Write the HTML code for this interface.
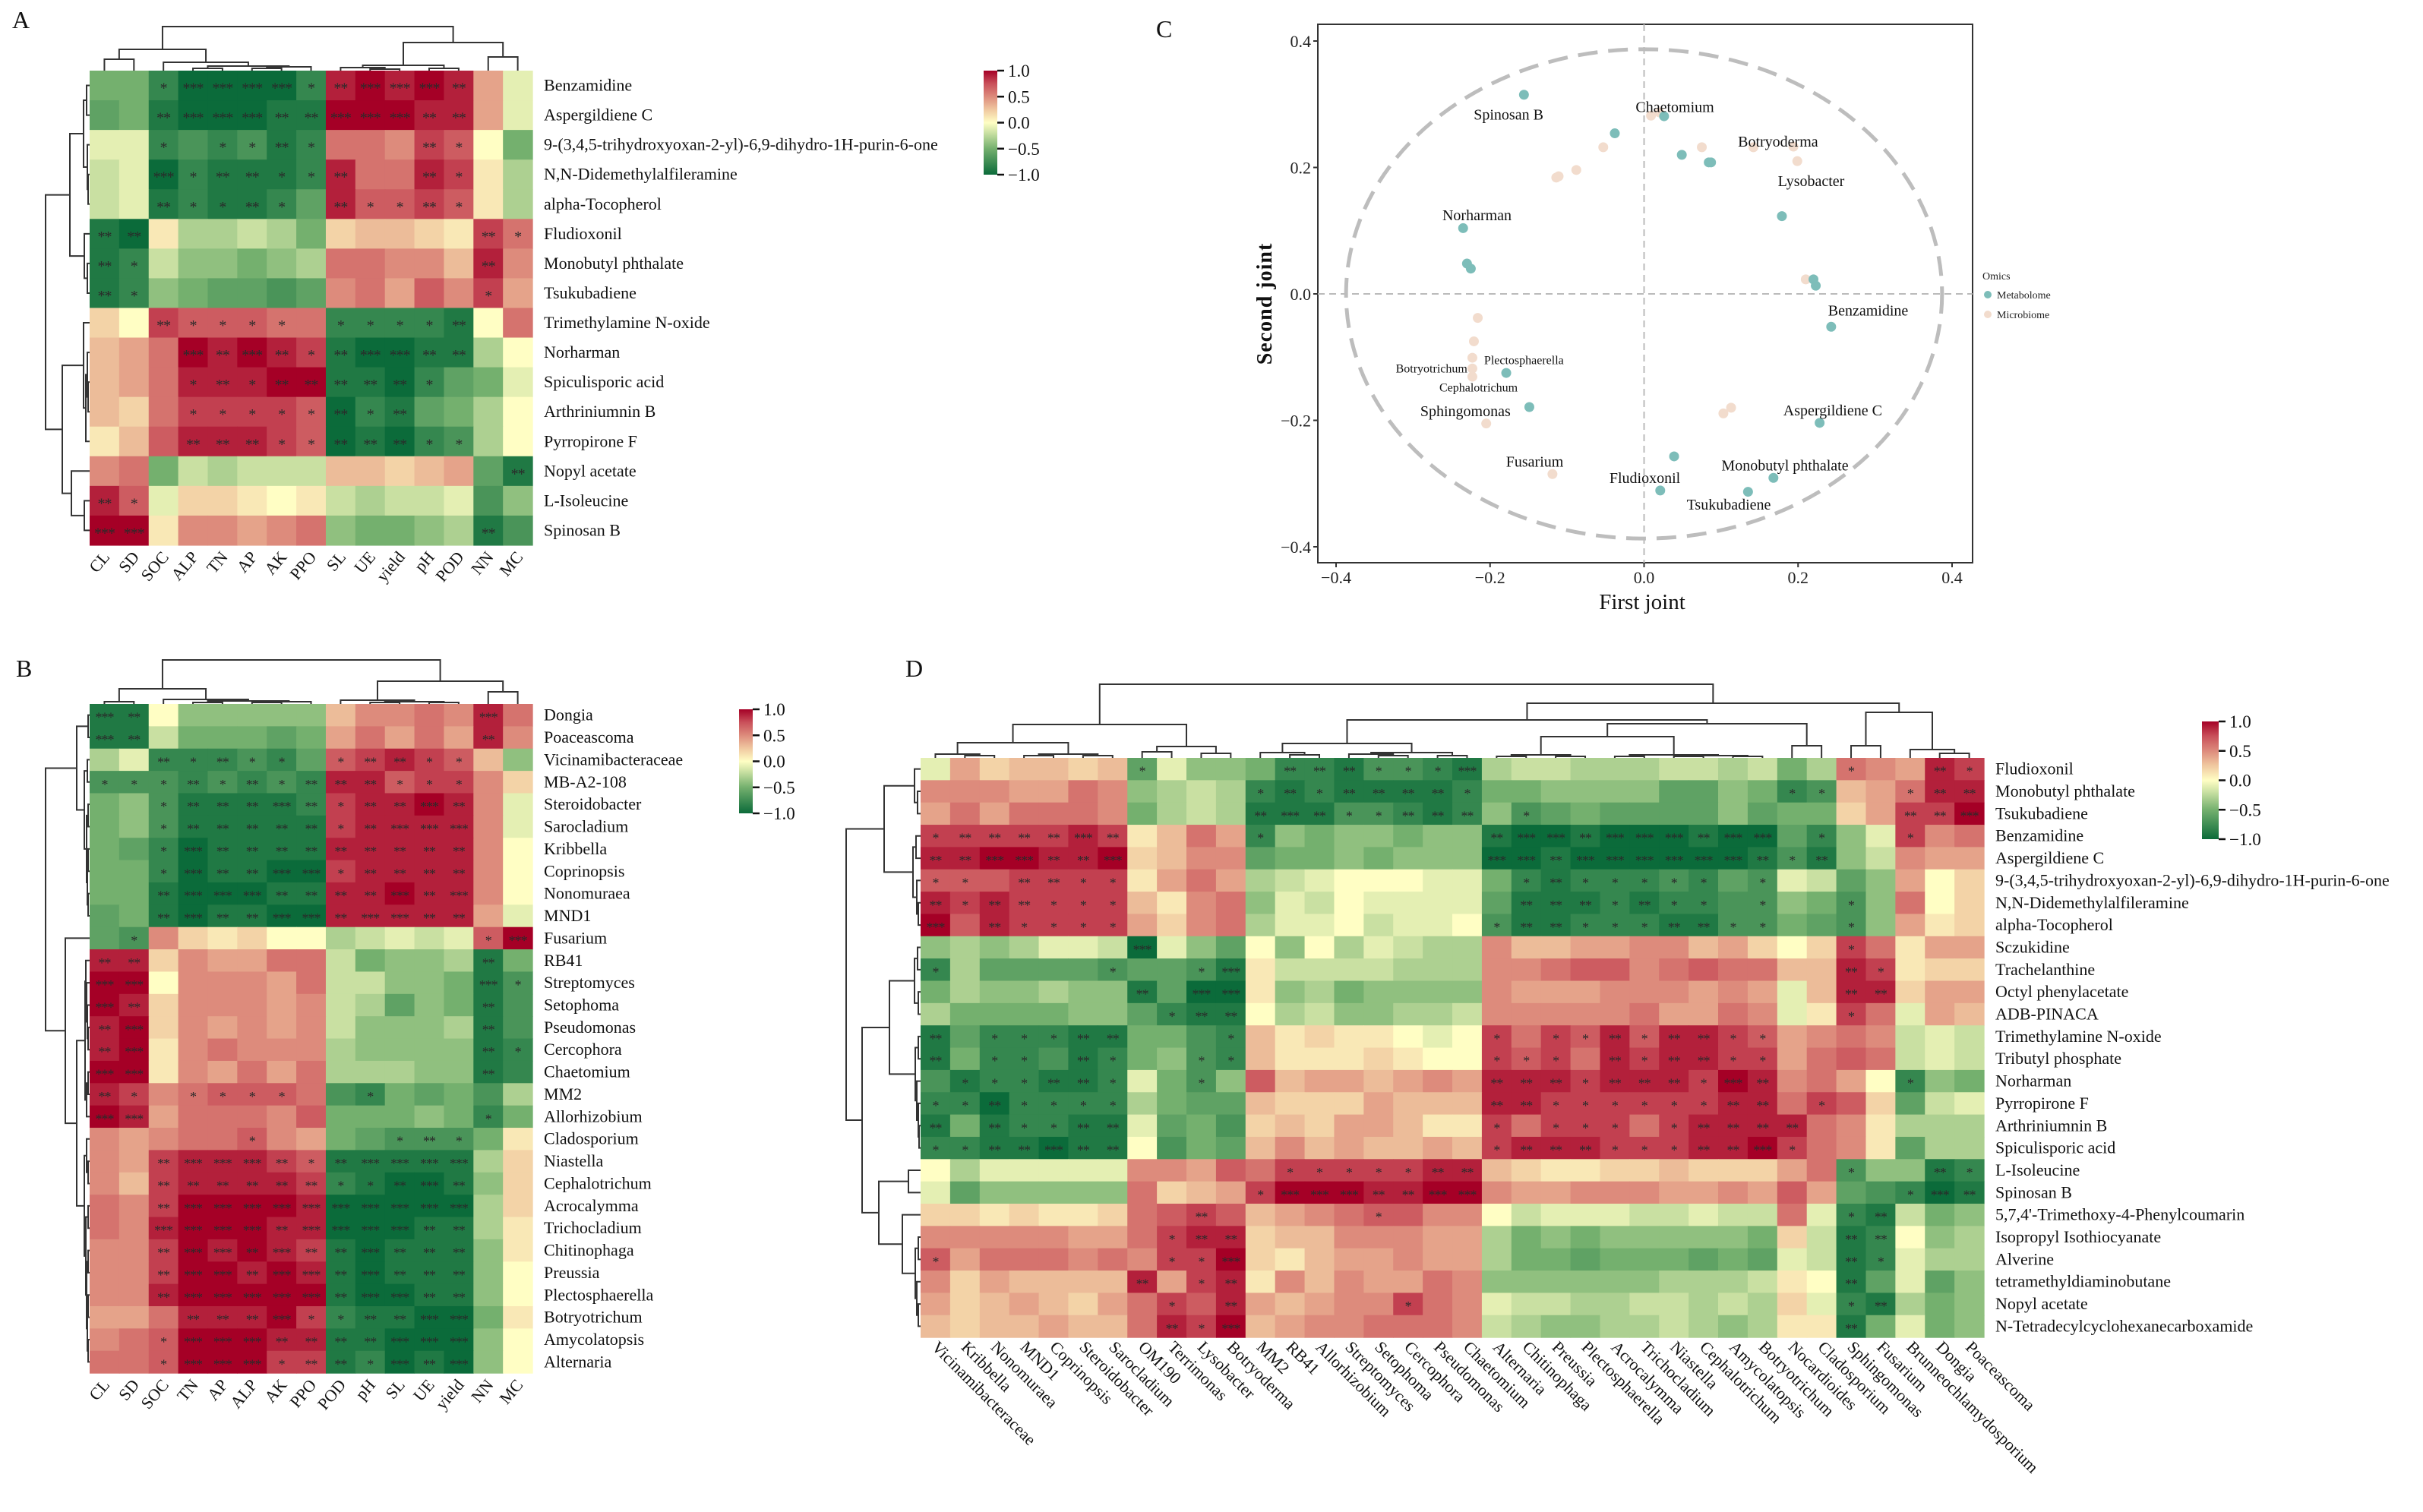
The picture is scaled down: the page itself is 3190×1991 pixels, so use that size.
<!DOCTYPE html>
<html><head><meta charset="utf-8">
<style>
html,body{margin:0;padding:0;background:#fff;}
svg{display:block;font-family:"Liberation Serif",serif;}
</style></head>
<body>
<svg id="fig" xmlns="http://www.w3.org/2000/svg" width="3190" height="1991" viewBox="0 0 3190 1991">
<defs>
<linearGradient id="cbar" x1="0" y1="1" x2="0" y2="0">
<stop offset="0" stop-color="rgb(11,107,58)"/><stop offset="0.25" stop-color="rgb(116,176,110)"/><stop offset="0.4" stop-color="rgb(201,224,162)"/><stop offset="0.5" stop-color="rgb(255,254,196)"/><stop offset="0.625" stop-color="rgb(240,200,160)"/><stop offset="0.75" stop-color="rgb(221,139,124)"/><stop offset="0.875" stop-color="rgb(201,80,90)"/><stop offset="1" stop-color="rgb(165,0,38)"/>
</linearGradient>
</defs>
</svg>
<script>
// ---------- Panel A data ----------
const aRows=["Benzamidine","Aspergildiene C","9-(3,4,5-trihydroxyoxan-2-yl)-6,9-dihydro-1H-purin-6-one","N,N-Didemethylalfileramine","alpha-Tocopherol","Fludioxonil","Monobutyl phthalate","Tsukubadiene","Trimethylamine N-oxide","Norharman","Spiculisporic acid","Arthriniumnin B","Pyrropirone F","Nopyl acetate","L-Isoleucine","Spinosan B"];
const aCols=["CL","SD","SOC","ALP","TN","AP","AK","PPO","SL","UE","yield","pH","POD","NN","MC"];
const aVals=[
[-5,-5,-8,-10,-10,-10,-10,-8,9,10,9,10,9,4,-1],
[-6,-5,-9,-10,-10,-10,-9,-9,10,10,10,9,9,4,-1],
[-1,-1,-8,-7,-8,-7,-9,-8,6,6,5,8,7,0,-5],
[-2,-1,-10,-8,-9,-9,-9,-8,9,6,6,9,8,1,-3],
[-2,-1,-9,-8,-9,-9,-8,-6,9,7,7,8,7,1,-3],
[-9,-10,1,-3,-3,-2,-3,-5,2,3,3,2,1,8,6],
[-9,-8,-2,-4,-4,-5,-4,-3,6,6,5,5,3,9,5],
[-9,-8,-4,-5,-6,-6,-7,-6,5,6,4,7,5,8,4],
[2,0,8,7,7,7,6,6,-8,-8,-8,-8,-9,0,6],
[3,4,6,10,9,10,9,8,-9,-10,-10,-9,-9,-3,0],
[3,4,6,9,9,9,10,10,-9,-9,-10,-8,-6,-5,-1],
[3,2,6,8,8,8,8,7,-10,-8,-9,-6,-5,-3,0],
[1,3,7,9,9,9,8,7,-10,-9,-10,-8,-7,-3,0],
[5,6,-5,-2,-3,-2,-2,-2,3,3,2,3,4,-6,-9],
[9,7,-1,2,2,1,0,1,-2,-3,-2,-2,-1,-7,-4],
[10,10,1,5,5,4,5,6,-4,-5,-5,-4,-3,-9,-7]];
const aStars=["001333312333200","002333223332200","001011210002100","003122112002100","002112102112100","220000000000021","210000000000020","210000000000010","002111101111200","000323212332200","000121222221000","000111112120000","000222112221100","000000000000002","210000000000000","330000000000020"];
const aRowTree=[[[[0,1,4],[2,[3,4,2],3],8],[5,[6,7,3],7],26],[[8,[[9,[10,11,2],3],12,5],8],[13,[14,15,7],24],36],58];
const aColTree=[[[0,1,15],[2,[[3,4,3],[[5,6,3],7,5],6],11],28],[[[8,[9,10,2],4],[11,12,3],7],[13,14,18],37],58];

// ---------- Panel B data ----------
const bRows=["Dongia","Poaceascoma","Vicinamibacteraceae","MB-A2-108","Steroidobacter","Sarocladium","Kribbella","Coprinopsis","Nonomuraea","MND1","Fusarium","RB41","Streptomyces","Setophoma","Pseudomonas","Cercophora","Chaetomium","MM2","Allorhizobium","Cladosporium","Niastella","Cephalotrichum","Acrocalymma","Trichocladium","Chitinophaga","Preussia","Plectosphaerella","Botryotrichum","Amycolatopsis","Alternaria"];
const bCols=["CL","SD","SOC","TN","AP","ALP","AK","PPO","POD","pH","SL","UE","yield","NN","MC"];
const bVals=[
[-9,-9,0,-4,-4,-4,-4,-4,3,5,5,6,5,9,6],
[-9,-9,-2,-5,-5,-5,-6,-5,4,6,4,6,4,9,5],
[-3,-1,-8,-8,-8,-7,-8,-6,7,8,9,8,7,3,-4],
[-7,-7,-7,-8,-7,-8,-7,-8,9,9,7,8,8,5,2],
[-5,-4,-7,-9,-9,-9,-9,-8,8,9,9,10,9,5,-1],
[-5,-4,-7,-9,-9,-9,-9,-9,8,9,9,9,9,5,-1],
[-5,-6,-8,-10,-9,-9,-9,-9,9,9,9,9,9,5,0],
[-5,-5,-8,-10,-9,-9,-10,-10,8,9,9,9,9,5,0],
[-5,-5,-9,-10,-10,-10,-9,-9,9,9,10,9,9,5,0],
[-6,-5,-9,-10,-9,-9,-10,-10,9,9,9,9,9,4,-1],
[-6,-7,5,2,1,2,0,0,-3,-2,-1,-2,-1,7,10],
[9,9,2,5,4,4,6,6,-2,-5,-4,-4,-3,-9,-5],
[10,10,0,5,5,5,4,6,-2,-2,-4,-4,-5,-9,-7],
[10,9,2,5,5,5,4,5,-2,-3,-6,-4,-5,-9,-7],
[9,10,2,5,4,5,4,5,-2,-4,-4,-4,-3,-9,-7],
[9,10,1,5,6,5,5,5,-3,-4,-4,-4,-4,-9,-8],
[10,10,1,5,4,6,4,6,-3,-3,-3,-4,-4,-9,-8],
[9,8,5,6,7,7,7,6,-7,-8,-5,-6,-5,-7,-3],
[10,9,4,6,6,6,5,7,-5,-5,-5,-4,-5,-8,-5],
[5,4,5,6,6,7,5,4,-5,-6,-7,-7,-7,-5,1],
[5,4,8,9,9,9,8,7,-9,-9,-9,-9,-9,-3,2],
[5,3,8,9,9,9,9,8,-8,-9,-10,-10,-9,-4,2],
[6,5,8,10,10,10,10,9,-10,-10,-10,-10,-10,-3,2],
[6,5,9,10,10,10,9,9,-10,-10,-10,-9,-9,-3,1],
[5,5,8,10,9,10,9,8,-9,-10,-9,-9,-9,-4,1],
[5,5,8,10,10,9,10,9,-9,-10,-9,-9,-9,-4,0],
[5,5,9,10,10,10,10,10,-9,-10,-10,-9,-9,-4,0],
[4,4,6,9,9,9,10,8,-8,-9,-9,-10,-10,-5,1],
[5,6,7,10,10,10,9,9,-9,-9,-10,-10,-10,-4,0],
[6,6,7,10,10,10,8,8,-9,-8,-10,-9,-10,-4,0]];
const bStars=["320000000000030","320000000000020","002121101221100","111212122211100","001222321223200","001222221233300","001322222222200","001322331222200","002333222232300","002322332332200","010000000000013","220000000000020","330000000000031","320000000000020","230000000000020","230000000000021","330000000000020","210111100100000","330000000000010","000001000012100","002333212333300","002222221123200","002333333333300","003333233332200","002332322322200","002332332322200","002333332332200","000222311223300","001333222233300","001333122132300"];
const bRowTree=[[[0,1,2],[[2,3,3],[[4,5,2],[[6,7,2],[8,9,2],3],4],7],17],[10,[[[11,[12,[13,[14,15,2],3],4],5],[[16,17,2],18,4],6],[[19,[20,21,2],4],[[22,23,2],[[24,25,2],[[26,27,2],[28,29,2],3],4],5],7],17],32],58];
const bColTree=[[[0,1,3],[2,[[3,4,2],[[5,6,2],7,3],4],6],20],[[8,[[9,10,2],[11,12,2],3],5],[13,14,16],30],58];

// ---------- Panel C data ----------
const metaX=[-0.156,0.026,-0.038,0.049,0.084,0.087,0.179,-0.235,-0.230,-0.225,0.220,0.223,0.243,-0.179,-0.149,0.228,0.039,0.168,0.135,0.021];
const metaY=[0.315,0.281,0.254,0.220,0.208,0.208,0.123,0.104,0.048,0.040,0.023,0.013,-0.052,-0.125,-0.179,-0.204,-0.257,-0.291,-0.313,-0.311];
const microX=[0.009,0.020,-0.053,-0.088,-0.114,-0.111,0.075,0.142,0.194,0.199,0.210,-0.216,-0.221,-0.223,-0.223,-0.223,-0.205,-0.119,0.103,0.113];
const microY=[0.282,0.287,0.232,0.196,0.184,0.186,0.232,0.232,0.233,0.210,0.023,-0.038,-0.075,-0.101,-0.118,-0.131,-0.205,-0.285,-0.189,-0.180];
const cLabels=["Spinosan B","Chaetomium","Botryoderma","Lysobacter","Norharman","Benzamidine","Plectosphaerella","Botryotrichum","Cephalotrichum","Sphingomonas","Aspergildiene C","Fusarium","Monobutyl phthalate","Fludioxonil","Tsukubadiene"];
const cLabelX=[-0.176,0.040,0.174,0.217,-0.217,0.291,-0.156,-0.276,-0.215,-0.232,0.245,-0.142,0.183,0.001,0.110];
const cLabelY=[0.283,0.295,0.240,0.178,0.124,-0.027,-0.104,-0.117,-0.147,-0.186,-0.185,-0.266,-0.272,-0.292,-0.334];
const cSmall=[0,0,0,0,0,0,1,1,1,0,0,0,0,0,0];
const cTicks=[-0.4,-0.2,0.0,0.2,0.4];
const cTickLabels=["\u22120.4","\u22120.2","0.0","0.2","0.4"];

// ---------- Panel D data ----------
const dRows=["Fludioxonil","Monobutyl phthalate","Tsukubadiene","Benzamidine","Aspergildiene C","9-(3,4,5-trihydroxyoxan-2-yl)-6,9-dihydro-1H-purin-6-one","N,N-Didemethylalfileramine","alpha-Tocopherol","Sczukidine","Trachelanthine","Octyl phenylacetate","ADB-PINACA","Trimethylamine N-oxide","Tributyl phosphate","Norharman","Pyrropirone F","Arthriniumnin B","Spiculisporic acid","L-Isoleucine","Spinosan B","5,7,4'-Trimethoxy-4-Phenylcoumarin","Isopropyl Isothiocyanate","Alverine","tetramethyldiaminobutane","Nopyl acetate","N-Tetradecylcyclohexanecarboxamide"];
const dCols=["Vicinamibacteraceae","Kribbella","Nonomuraea","MND1","Coprinopsis","Steroidobacter","Sarocladium","OM190","Terrimonas","Lysobacter","Botryoderma","MM2","RB41","Allorhizobium","Streptomyces","Setophoma","Cercophora","Pseudomonas","Chaetomium","Alternaria","Chitinophaga","Preussia","Plectosphaerella","Acrocalymma","Trichocladium","Niastella","Cephalotrichum","Amycolatopsis","Botryotrichum","Nocardioides","Cladosporium","Sphingomonas","Fusarium","Brunneochlamydosporium","Dongia","Poaceascoma"];
const dVals=[
[-1,4,2,3,3,2,3,-6,-1,-4,-4,-5,-8,-8,-9,-7,-7,-8,-9,-3,-2,-2,-3,-3,-3,-2,-2,-3,-2,-5,-3,6,5,4,9,8],
[5,5,5,4,4,6,5,-4,-3,-2,-3,-8,-9,-8,-9,-9,-9,-9,-8,-5,-5,-4,-4,-4,-4,-6,-6,-4,-5,-8,-7,3,4,6,9,9],
[4,6,4,6,6,6,5,-5,-3,-2,-3,-9,-9,-9,-7,-7,-8,-9,-8,-4,-7,-6,-5,-6,-6,-6,-6,-4,-6,-5,-5,2,4,8,8,10],
[8,8,8,8,8,9,8,1,3,6,4,-8,-4,-5,-4,-4,-5,-4,-4,-9,-10,-10,-9,-10,-10,-10,-9,-10,-10,-6,-8,-4,-1,8,5,6],
[9,9,10,10,9,9,10,2,3,5,5,-6,-5,-5,-4,-5,-4,-4,-4,-10,-10,-9,-10,-10,-10,-10,-10,-10,-9,-7,-9,-4,-2,5,4,4],
[7,7,7,8,8,8,8,1,4,6,4,-3,-2,-1,0,0,0,-1,-1,-5,-8,-9,-8,-8,-8,-7,-8,-6,-7,-1,-2,-6,-4,4,0,2],
[9,8,9,8,8,8,8,3,1,5,6,-4,-1,-2,0,-1,-1,-1,-1,-6,-9,-9,-9,-8,-9,-8,-8,-7,-7,-4,-5,-7,-4,6,0,2],
[10,7,9,8,8,8,8,4,2,5,6,-3,-1,-1,0,-2,-1,-1,0,-7,-9,-9,-8,-8,-8,-9,-9,-7,-7,-5,-6,-7,-4,4,1,2],
[-4,-3,-4,-3,-1,-1,-2,-10,-1,-4,-6,0,-4,0,-3,-1,-2,-3,-3,5,3,3,4,4,5,5,3,4,2,0,2,8,6,1,4,4],
[-8,-3,-6,-6,-6,-6,-7,-6,-6,-7,-9,1,-2,-2,-2,-2,-3,-3,-3,5,5,6,7,7,5,6,7,6,6,3,3,9,8,1,2,2],
[-5,-3,-4,-4,-3,-4,-4,-9,-6,-10,-10,1,-4,-3,-5,-4,-4,-4,-4,5,4,4,4,5,5,5,4,5,4,-1,3,9,9,2,4,4],
[-3,-5,-5,-5,-5,-4,-4,-6,-8,-9,-9,0,-3,-2,-4,-4,-3,-3,-2,5,5,5,5,5,6,4,4,6,5,-1,1,8,6,-1,4,3],
[-9,-6,-8,-8,-8,-9,-9,-5,-5,-7,-8,3,1,2,1,1,0,-1,0,8,6,8,7,9,7,9,9,8,7,4,5,6,5,-2,-1,-2],
[-9,-5,-8,-8,-7,-9,-8,-5,-4,-7,-8,3,1,1,1,2,1,0,0,8,7,8,6,9,8,9,9,8,8,4,6,7,6,-2,-1,-2],
[-7,-9,-8,-8,-9,-9,-8,-1,-5,-7,-4,7,3,4,4,3,4,5,4,9,9,9,8,9,9,9,8,10,9,5,6,4,0,-8,-4,-5],
[-8,-8,-10,-8,-8,-8,-8,-3,-5,-6,-6,3,2,2,2,4,3,3,3,9,9,8,8,8,8,8,8,9,9,6,8,7,2,-6,-2,-1],
[-9,-5,-9,-8,-8,-9,-9,-1,-6,-5,-7,2,3,2,4,4,3,1,1,8,6,8,8,8,6,8,9,9,9,9,6,5,1,-3,-3,-3],
[-8,-8,-9,-9,-10,-9,-9,0,-7,-5,-6,3,5,3,4,3,3,4,3,8,9,9,9,8,8,8,9,9,10,8,6,5,1,-6,-3,-3],
[0,-3,-1,-1,-1,-1,-1,5,5,4,7,6,8,8,8,8,8,9,9,3,2,1,1,2,2,3,2,2,2,4,6,-7,-4,-4,-9,-8],
[-1,-6,-4,-4,-4,-4,-4,6,2,3,4,8,10,10,10,9,9,10,10,5,4,4,5,5,5,4,4,5,4,7,4,-6,-7,-8,-10,-9],
[2,2,1,2,1,1,2,6,7,8,7,3,4,5,6,7,7,5,5,0,-2,-1,-1,-1,-2,-2,-1,-2,-2,6,-1,-8,-9,-2,-5,-4],
[5,5,5,5,5,4,4,6,8,9,9,2,3,3,5,5,5,4,4,-3,-5,-4,-5,-4,-4,-4,-4,-4,-5,2,-2,-9,-8,0,-4,-3],
[7,4,6,6,6,5,6,5,8,8,10,2,1,3,4,4,5,4,4,-3,-5,-5,-6,-5,-5,-5,-6,-5,-6,-1,-2,-9,-8,-1,-3,-3],
[5,2,4,3,3,3,3,9,4,8,9,1,5,3,5,4,4,6,5,-4,-4,-4,-4,-4,-4,-3,-3,-3,-2,1,0,-9,-6,-1,-6,-4],
[4,2,3,4,3,2,4,6,8,7,9,4,3,4,5,5,8,6,5,-1,-2,-2,-3,-3,-2,-2,-3,-2,-3,2,-1,-8,-9,-3,-5,-4],
[3,2,3,3,4,3,3,6,9,8,10,3,4,5,5,6,6,6,5,-2,-3,-4,-4,-3,-3,-2,-3,-4,-3,1,1,-9,-5,-1,-5,-4]];
const dStars=[
"0000000"+"1000"+"02221113"+"0000000000"+"00"+"10"+"021",
"0000000"+"0000"+"12122221"+"0000000000"+"11"+"00"+"122",
"0000000"+"0000"+"23211222"+"0100000000"+"00"+"00"+"223",
"1222232"+"0000"+"10000000"+"2332333233"+"01"+"00"+"100",
"2233223"+"0000"+"00000000"+"3323333332"+"12"+"00"+"000",
"1102211"+"0000"+"00000000"+"0121111101"+"00"+"00"+"000",
"2122111"+"0000"+"00000000"+"0222121101"+"00"+"10"+"000",
"3021111"+"0000"+"00000000"+"1221112211"+"00"+"10"+"000",
"0000000"+"3000"+"00000000"+"0000000000"+"00"+"10"+"000",
"1000001"+"0013"+"00000000"+"0000000000"+"00"+"21"+"000",
"0000000"+"2033"+"00000000"+"0000000000"+"00"+"22"+"000",
"0000000"+"0122"+"00000000"+"0000000000"+"00"+"10"+"000",
"2011122"+"0001"+"00000000"+"1011212211"+"00"+"00"+"000",
"2011021"+"0011"+"00000000"+"1110212211"+"00"+"00"+"000",
"0111221"+"0010"+"00000000"+"2221222132"+"00"+"00"+"100",
"1121111"+"0000"+"00000000"+"2211111122"+"01"+"00"+"000",
"2021122"+"0000"+"00000000"+"1011101222"+"20"+"00"+"000",
"1122322"+"0000"+"00000000"+"1222111223"+"10"+"00"+"000",
"0000000"+"0000"+"01111122"+"0000000000"+"00"+"10"+"021",
"0000000"+"0000"+"13332233"+"0000000000"+"00"+"00"+"132",
"0000000"+"0020"+"00001000"+"0000000000"+"00"+"12"+"000",
"0000000"+"0122"+"00000000"+"0000000000"+"00"+"22"+"000",
"1000000"+"0113"+"00000000"+"0000000000"+"00"+"21"+"000",
"0000000"+"2012"+"00000000"+"0000000000"+"00"+"20"+"000",
"0000000"+"0102"+"00000100"+"0000000000"+"00"+"12"+"000",
"0000000"+"0213"+"00000000"+"0000000000"+"00"+"20"+"000"];
const dRowTree=[[[0,[1,2,4],8],[[3,4,6],[5,[6,7,3],5],10],48],[[[[8,9,4],[10,11,3],8],[[12,13,3],[14,[15,[16,17,2],3],5],7],41],[[18,19,16],[20,[[21,22,3],[23,[24,25,3],5],7],24],55],77],98];
const dColTree=[[[[0,[1,2,3],5],[[3,4,3],[5,6,3],5],20],[[7,8,8],[9,10,6],15],44],[[[[11,[12,13,4],7],[[14,[15,16,3],5],[17,18,3],7],19],[[[[19,20,2],[21,22,2],4],[[23,24,2],[[25,26,2],[27,28,2],3],4],28],[29,30,16],45],50],[[31,32,16],[33,[34,35,6],11],60],72],97];

const cbTicks=[1.0,0.5,0.0,-0.5,-1.0];
const cbTickLabels=["1.0","0.5","0.0","\u22120.5","\u22121.0"];

// ---------- helpers ----------
const NS='http://www.w3.org/2000/svg';
const svg=document.getElementById('fig');
function mk(tag,attrs,parent){const e=document.createElementNS(NS,tag);for(const k in attrs)e.setAttribute(k,attrs[k]);(parent||svg).appendChild(e);return e;}
function txt(s,attrs,parent){const e=mk('text',attrs,parent);e.textContent=s;return e;}
const stops=[[-1,[11,107,58]],[-0.5,[116,176,110]],[-0.2,[201,224,162]],[0,[255,254,196]],[0.25,[240,200,160]],[0.5,[221,139,124]],[0.75,[201,80,90]],[1,[165,0,38]]];
function color(v){v=Math.max(-1,Math.min(1,v));for(let i=1;i<stops.length;i++){if(v<=stops[i][0]){const a=stops[i-1],b=stops[i];const t=(v-a[0])/(b[0]-a[0]);const c=a[1].map((x,j)=>Math.round(x+(b[1][j]-x)*t));return 'rgb('+c.join(',')+')';}}return 'rgb(165,0,38)';}

function dendro(node,g,orient,x0,y0,size){
  if(typeof node==='number'){return {p:(orient==='top'?x0:y0)+(node+0.5)*size,h:0};}
  const a=dendro(node[0],g,orient,x0,y0,size),b=dendro(node[1],g,orient,x0,y0,size),h=node[2];
  let d;
  if(orient==='top'){
    d='M'+a.p+','+(y0-a.h)+'V'+(y0-h)+'H'+b.p+'V'+(y0-b.h);
  } else {
    d='M'+(x0-a.h)+','+a.p+'H'+(x0-h)+'V'+b.p+'H'+(x0-b.h);
  }
  const pth=mk('path',{d:d,fill:'none',stroke:'#333','stroke-width':2},g);
  
  
  return {p:(a.p+b.p)/2,h:h};
}

function colorbar(name,x,y,w,h){
  const g=mk('g',{});
  
  
  const r=mk('rect',{x:x,y:y,width:w,height:h,fill:'url(#cbar)'},g);
  
  
  cbTicks.forEach((t,i)=>{
    const ty=y+(1-t)/2*h;
    const ln=mk('line',{x1:x+w,x2:x+w+9,y1:ty,y2:ty,stroke:'#111','stroke-width':2.5},g);
    
    
    const tl=txt(cbTickLabels[i],{x:x+w+14,y:ty+8,'font-size':23,fill:'#111'},g);
    
    
  });
}

function heatmap(name,x0,y0,cw,ch,rows,cols,vals,stars,rowTree,colTree,colRot,starSize){
  const g=mk('g',{});
  
  
  vals.forEach((row,i)=>{
    row.forEach((v,j)=>{
      const r=mk('rect',{x:(x0+j*cw).toFixed(2),y:(y0+i*ch).toFixed(2),width:(cw+0.6).toFixed(2),height:(ch+0.6).toFixed(2),fill:color(v/10)},g);
      
      
      const n=+stars[i][j];
      if(n>0){
        const s=txt('*'.repeat(n),{x:(x0+(j+0.5)*cw).toFixed(2),y:(y0+(i+0.5)*ch+starSize*0.5).toFixed(2),'font-size':starSize,'text-anchor':'middle',fill:'#2a2a2a','letter-spacing':-1},g);
        
        
      }
    });
  });
  const xr=x0+cols.length*cw, yb=y0+rows.length*ch;
  rows.forEach((lab,i)=>{
    const t=txt(lab,{x:xr+15,y:(y0+(i+0.5)*ch+7).toFixed(2),'font-size':22,fill:'#111'},g);
    
    
  });
  cols.forEach((lab,j)=>{
    const cx=x0+(j+0.5)*cw;
    let t;
    if(colRot<0){
      t=txt(lab,{x:0,y:0,'font-size':22,fill:'#111','text-anchor':'end',transform:'translate('+(cx+8)+','+(yb+16)+') rotate('+colRot+')'},g);
    } else {
      t=txt(lab,{x:0,y:0,'font-size':22,fill:'#111','text-anchor':'start',transform:'translate('+(cx-6)+','+(yb+14)+') rotate('+colRot+')'},g);
    }
    
    
  });
  const rg=mk('g',{},g);
  
  
  dendro(rowTree,rg,'left',x0,y0,ch);
  const cg=mk('g',{},g);
  
  
  dendro(colTree,cg,'top',x0,y0,cw);
}

function panelLetter(s,x,y){
  const t=txt(s,{x:x,y:y,'font-size':32,fill:'#111'});
  
  
}

// ---------- Panel A ----------
panelLetter('A',16,37);
heatmap('heatmap-a',118,93,38.87,39.06,aRows,aCols,aVals,aStars,aRowTree,aColTree,-50,20);
colorbar('colorbar-a',1295,93,18,137);

// ---------- Panel B ----------
panelLetter('B',21,891);
heatmap('heatmap-b',118,927,38.87,29.37,bRows,bCols,bVals,bStars,bRowTree,bColTree,-50,18);
colorbar('colorbar-b',973,934,18,137);

// ---------- Panel D ----------
panelLetter('D',1192,891);
heatmap('heatmap-d',1212,998,38.89,29.35,dRows,dCols,dVals,dStars,dRowTree,dColTree,45,18);
colorbar('colorbar-d',2899,950,22,155);

// ---------- Panel C ----------
panelLetter('C',1522,49);
const cx0=2164.5, cux=1013.75, cy0=387, cuy=832.5;
function xs(v){return cx0+v*cux;}
function ys(v){return cy0-v*cuy;}
const cg=mk('g',{});


const frame=mk('rect',{x:1735,y:32,width:862,height:709,fill:'none',stroke:'#333','stroke-width':2},cg);


const circ=mk('ellipse',{cx:xs(0),cy:ys(0),rx:0.387*cux,ry:0.387*cuy,fill:'none',stroke:'#bdbdbd','stroke-width':5,'stroke-dasharray':'26,14'},cg);


const vz=mk('line',{x1:xs(0),x2:xs(0),y1:32,y2:741,stroke:'#bbb','stroke-width':2,'stroke-dasharray':'9,6'},cg);


const hz=mk('line',{x1:1735,x2:2597,y1:ys(0),y2:ys(0),stroke:'#bbb','stroke-width':2,'stroke-dasharray':'9,6'},cg);


cTicks.forEach((t,i)=>{
  const l1=mk('line',{x1:1729,x2:1735,y1:ys(t),y2:ys(t),stroke:'#333','stroke-width':2},cg);
  
  
  const t1=txt(cTickLabels[i],{x:1726,y:ys(t)+8,'font-size':22,'text-anchor':'end',fill:'#222'},cg);
  
  
  const l2=mk('line',{x1:xs(t),x2:xs(t),y1:741,y2:747,stroke:'#333','stroke-width':2},cg);
  
  
  const t2=txt(cTickLabels[i],{x:xs(t),y:768,'font-size':22,'text-anchor':'middle',fill:'#222'},cg);
  
  
});
const xt=txt('First joint',{x:2162,y:802,'font-size':29,'text-anchor':'middle',fill:'#111'},cg);


const yt=txt('Second joint',{x:0,y:0,'font-size':28,'font-weight':'bold','text-anchor':'middle',fill:'#111','letter-spacing':1,transform:'translate(1674,400) rotate(-90)'},cg);


microX.forEach((v,i)=>{
  const p=mk('circle',{cx:xs(v),cy:ys(microY[i]),r:6.5,fill:'#f2dccd'},cg);
  
  
});
metaX.forEach((v,i)=>{
  const p=mk('circle',{cx:xs(v),cy:ys(metaY[i]),r:6.5,fill:'#7dbdb9'},cg);
  
  
});
cLabels.forEach((s,i)=>{
  const t=txt(s,{x:xs(cLabelX[i]),y:ys(cLabelY[i])+6,'font-size':cSmall[i]?16:20,'text-anchor':'middle',fill:'#111'},cg);
  
  
});
const lg=mk('g',{});


const lt=txt('Omics',{x:2610,y:368,'font-size':14,fill:'#222'},lg);


const ld1=mk('circle',{cx:2617,cy:388,r:5,fill:'#7dbdb9'},lg);


const lt1=txt('Metabolome',{x:2629,y:393,'font-size':14,fill:'#222'},lg);


const ld2=mk('circle',{cx:2617,cy:414,r:5,fill:'#f2dccd'},lg);


const lt2=txt('Microbiome',{x:2629,y:419,'font-size':14,fill:'#222'},lg);


</script>
</body></html>
